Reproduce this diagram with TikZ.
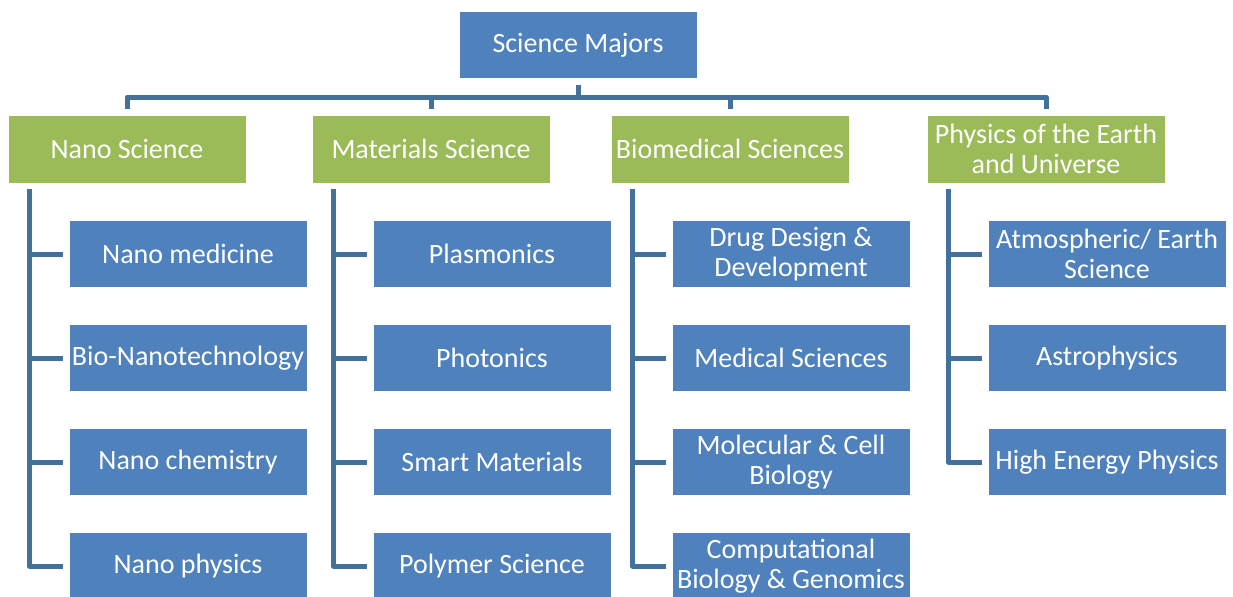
\documentclass[tikz,border=0pt]{standalone}
\usepackage{fontspec}
\setmainfont{Carlito}
\usetikzlibrary{positioning,calc}
\definecolor{boxblue}{HTML}{4F81BD}
\definecolor{boxgreen}{HTML}{9BBB59}
\definecolor{linkblue}{HTML}{41719C}

\begin{document}
\begin{tikzpicture}[x=0.5pt,y=-0.5pt,
  major/.style={shape=rectangle,fill=boxgreen,draw=white,line width=0.4pt,text=white,
    minimum width=119pt,minimum height=34pt,inner sep=1pt,align=center,
    font=\fontsize{14}{15}\selectfont},
  minor/.style={major,fill=boxblue,minimum height=33.5pt},
  link/.style={draw=linkblue,line width=2.5pt,line join=round}]
\useasboundingbox (0,0) rectangle (1233,596);

\node[minor] (sm) at (578,45) {Science Majors};

\node[major] (nano) at (127,149) {Nano Science};
\node[major] (mat) at (431,149) {Materials Science};
\node[major] (bio) at (730,149) {Biomedical Sciences};
\node[major] (phys) at (1046,149) {Physics of the Earth\\and Universe};

\node[minor] (n1) at (188,254) {Nano medicine};
\node[minor] (n2) at (188,358) {Bio-Nanotechnology};
\node[minor] (n3) at (188,462) {Nano chemistry};
\node[minor] (n4) at (188,566) {Nano physics};

\node[minor] (m1) at (492,254) {Plasmonics};
\node[minor] (m2) at (492,358) {Photonics};
\node[minor] (m3) at (492,462) {Smart Materials};
\node[minor] (m4) at (492,566) {Polymer Science};

\node[minor] (b1) at (791,254) {Drug Design \&\\Development};
\node[minor] (b2) at (791,358) {Medical Sciences};
\node[minor] (b3) at (791,462) {Molecular \& Cell\\Biology};
\node[minor] (b4) at (791,566) {Computational\\Biology \& Genomics};

\node[minor] (p1) at (1107,254) {Atmospheric/ Earth\\Science};
\node[minor] (p2) at (1107,358) {Astrophysics};
\node[minor] (p3) at (1107,462) {High Energy Physics};

% top level
\coordinate (hub) at (578,97);
\draw[link,shorten <=3pt] (sm) -- (hub);
\foreach \g in {nano,mat,bio,phys}
  \draw[link,shorten >=3pt] (hub) -| (\g.north);

% columns
\foreach \c in {n1,n2,n3,n4}
  \draw[link,shorten <=3pt,shorten >=3pt] ([xshift=11pt]nano.south west) |- (\c.west);
\foreach \c in {m1,m2,m3,m4}
  \draw[link,shorten <=3pt,shorten >=3pt] ([xshift=11pt]mat.south west) |- (\c.west);
\foreach \c in {b1,b2,b3,b4}
  \draw[link,shorten <=3pt,shorten >=3pt] ([xshift=11pt]bio.south west) |- (\c.west);
\foreach \c in {p1,p2,p3}
  \draw[link,shorten <=3pt,shorten >=3pt] ([xshift=11pt]phys.south west) |- (\c.west);
\end{tikzpicture}
\end{document}
